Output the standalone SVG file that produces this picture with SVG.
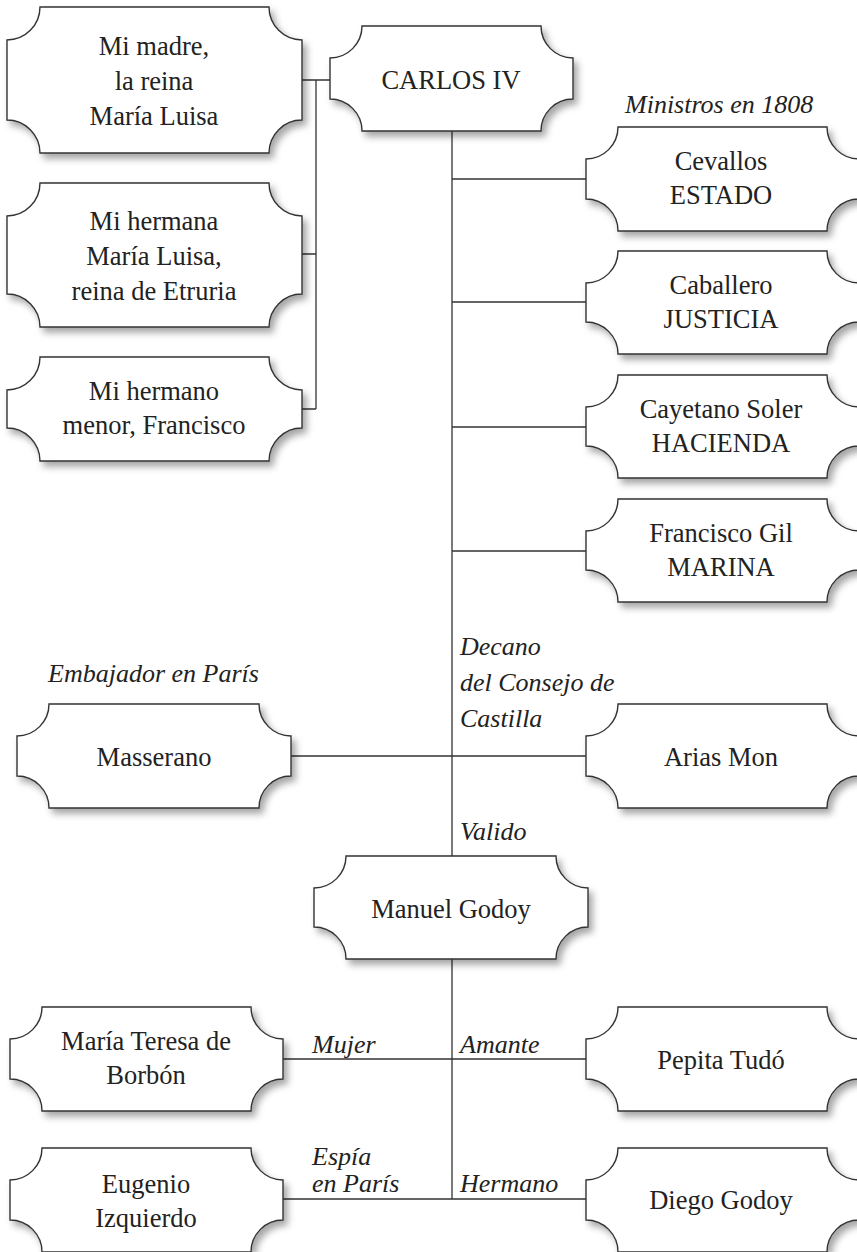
<svg xmlns="http://www.w3.org/2000/svg" width="857" height="1252" viewBox="0 0 857 1252">
<defs>
<filter id="sh" x="-10%" y="-10%" width="125%" height="130%">
<feDropShadow dx="4" dy="5" stdDeviation="3.5" flood-color="#000" flood-opacity="0.35"/>
</filter>
</defs>
<style>
.box{fill:#fff;stroke:#333;stroke-width:1.4;filter:url(#sh)}
.t{font-family:"Liberation Serif","Times New Roman",serif;font-size:26.5px;fill:#222;text-anchor:middle}
.i{font-family:"Liberation Serif","Times New Roman",serif;font-size:26px;font-style:italic;fill:#222}
.ln{stroke:#333;stroke-width:1.3;fill:none}
</style>
<rect width="857" height="1252" fill="#fff"/>
<g id="connectors">
<path class="ln" d="M302 80H330M316 80V409M302 254H316M302 409H316"/>
<path class="ln" d="M452 131V856M452 179H586M452 302H586M452 427H586M452 551H586M291 756H586"/>
<path class="ln" d="M452 959V1199M283 1059H586M283 1199H586"/>
</g>
<g id="labels">
<text class="i" x="625" y="113">Ministros en 1808</text>
<text class="i" x="48" y="682">Embajador en París</text>
<text class="i" x="460" y="655">Decano</text>
<text class="i" x="460" y="691">del Consejo de</text>
<text class="i" x="460" y="727">Castilla</text>
<text class="i" x="460" y="840">Valido</text>
<text class="i" x="312" y="1053">Mujer</text>
<text class="i" x="460" y="1053">Amante</text>
<text class="i" x="312" y="1165">Espía</text>
<text class="i" x="312" y="1192">en París</text>
<text class="i" x="460" y="1192">Hermano</text>
</g>
<g id="madre">
<path class="box" d="M40 7H269A33 33 0 0 0 302 40V120A33 33 0 0 0 269 153H40A33 33 0 0 0 7 120V40A33 33 0 0 0 40 7Z"/>
<text class="t" x="154" y="55">Mi madre,</text>
<text class="t" x="154" y="90">la reina</text>
<text class="t" x="154" y="125">María Luisa</text>
</g>
<g id="hermana">
<path class="box" d="M40 183H269A33 33 0 0 0 302 216V294A33 33 0 0 0 269 327H40A33 33 0 0 0 7 294V216A33 33 0 0 0 40 183Z"/>
<text class="t" x="154" y="230">Mi hermana</text>
<text class="t" x="154" y="265">María Luisa,</text>
<text class="t" x="154" y="300">reina de Etruria</text>
</g>
<g id="hermano">
<path class="box" d="M40 357H269A33 33 0 0 0 302 390V428A33 33 0 0 0 269 461H40A33 33 0 0 0 7 428V390A33 33 0 0 0 40 357Z"/>
<text class="t" x="154" y="400">Mi hermano</text>
<text class="t" x="154" y="434">menor, Francisco</text>
</g>
<g id="carlos">
<path class="box" d="M362 26H541A32 32 0 0 0 573 58V99A32 32 0 0 0 541 131H362A32 32 0 0 0 330 99V58A32 32 0 0 0 362 26Z"/>
<text class="t" x="451" y="89">CARLOS IV</text>
</g>
<g id="cevallos">
<path class="box" d="M618 127H827A32 32 0 0 0 859 159V199A32 32 0 0 0 827 231H618A32 32 0 0 0 586 199V159A32 32 0 0 0 618 127Z"/>
<text class="t" x="721" y="170">Cevallos</text>
<text class="t" x="721" y="204">ESTADO</text>
</g>
<g id="caballero">
<path class="box" d="M618 251H827A32 32 0 0 0 859 283V322A32 32 0 0 0 827 354H618A32 32 0 0 0 586 322V283A32 32 0 0 0 618 251Z"/>
<text class="t" x="721" y="294">Caballero</text>
<text class="t" x="721" y="328">JUSTICIA</text>
</g>
<g id="cayetano">
<path class="box" d="M618 375H827A32 32 0 0 0 859 407V446A32 32 0 0 0 827 478H618A32 32 0 0 0 586 446V407A32 32 0 0 0 618 375Z"/>
<text class="t" x="721" y="418">Cayetano Soler</text>
<text class="t" x="721" y="452">HACIENDA</text>
</g>
<g id="gil">
<path class="box" d="M618 499H827A32 32 0 0 0 859 531V570A32 32 0 0 0 827 602H618A32 32 0 0 0 586 570V531A32 32 0 0 0 618 499Z"/>
<text class="t" x="721" y="542">Francisco Gil</text>
<text class="t" x="721" y="576">MARINA</text>
</g>
<g id="masserano">
<path class="box" d="M49 704H259A32 32 0 0 0 291 736V776A32 32 0 0 0 259 808H49A32 32 0 0 0 17 776V736A32 32 0 0 0 49 704Z"/>
<text class="t" x="154" y="766">Masserano</text>
</g>
<g id="arias">
<path class="box" d="M618 704H827A32 32 0 0 0 859 736V776A32 32 0 0 0 827 808H618A32 32 0 0 0 586 776V736A32 32 0 0 0 618 704Z"/>
<text class="t" x="721" y="766">Arias Mon</text>
</g>
<g id="godoy">
<path class="box" d="M346 856H556A32 32 0 0 0 588 888V927A32 32 0 0 0 556 959H346A32 32 0 0 0 314 927V888A32 32 0 0 0 346 856Z"/>
<text class="t" x="451" y="918">Manuel Godoy</text>
</g>
<g id="mteresa">
<path class="box" d="M42 1007H251A32 32 0 0 0 283 1039V1079A32 32 0 0 0 251 1111H42A32 32 0 0 0 10 1079V1039A32 32 0 0 0 42 1007Z"/>
<text class="t" x="146" y="1050">María Teresa de</text>
<text class="t" x="146" y="1084">Borbón</text>
</g>
<g id="pepita">
<path class="box" d="M618 1007H827A32 32 0 0 0 859 1039V1079A32 32 0 0 0 827 1111H618A32 32 0 0 0 586 1079V1039A32 32 0 0 0 618 1007Z"/>
<text class="t" x="721" y="1069">Pepita Tudó</text>
</g>
<g id="eugenio">
<path class="box" d="M42 1148H251A32 32 0 0 0 283 1180V1220A32 32 0 0 0 251 1252H42A32 32 0 0 0 10 1220V1180A32 32 0 0 0 42 1148Z"/>
<text class="t" x="146" y="1193">Eugenio</text>
<text class="t" x="146" y="1227">Izquierdo</text>
</g>
<g id="diego">
<path class="box" d="M618 1148H827A32 32 0 0 0 859 1180V1220A32 32 0 0 0 827 1252H618A32 32 0 0 0 586 1220V1180A32 32 0 0 0 618 1148Z"/>
<text class="t" x="721" y="1209">Diego Godoy</text>
</g>
</svg>
